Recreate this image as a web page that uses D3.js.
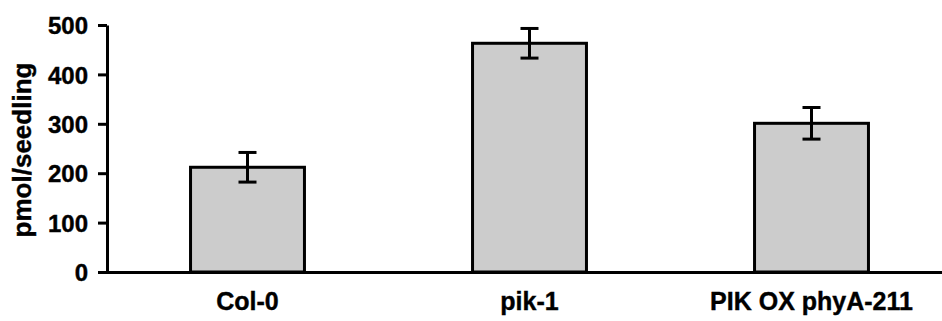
<!DOCTYPE html>
<html>
<head>
<meta charset="utf-8">
<script src="https://cdn.jsdelivr.net/npm/d3@7"></script>
<style>
html,body{margin:0;padding:0;background:#fff;}
svg{display:block;}
text{font-family:"Liberation Sans",Arial,sans-serif;font-weight:bold;fill:#000;stroke:#000;stroke-width:0.4px;}
</style>
</head>
<body>
<svg id="chart" width="942" height="321"></svg>
<script>
const categories = ["Col-0", "pik-1", "PIK OX phyA-211"];
const values = [212, 463, 301];
const errors = [30, 30, 32];
const yTicks = [0, 100, 200, 300, 400, 500];
const yTitle = "pmol/seedling";

const svg = d3.select("#chart");
const y = d3.scaleLinear().domain([0, 500]).range([272, 25]);
const x = d3.scaleBand().domain(categories).range([106.5, 952.5])
  .paddingInner(0.596).paddingOuter(0.298);

// bars
svg.selectAll("rect.bar").data(categories).enter().append("rect")
  .attr("class", "bar")
  .attr("x", d => x(d))
  .attr("width", x.bandwidth())
  .attr("y", (d, i) => y(values[i]))
  .attr("height", (d, i) => y(0) - y(values[i]))
  .attr("fill", "#cccccc")
  .attr("stroke", "#000")
  .attr("stroke-width", 3);

// error bars
const capW = 18;
const eb = svg.selectAll("g.err").data(categories).enter().append("g").attr("class", "err");
eb.append("line")
  .attr("x1", d => x(d) + x.bandwidth() / 2).attr("x2", d => x(d) + x.bandwidth() / 2)
  .attr("y1", (d, i) => y(values[i] + errors[i])).attr("y2", (d, i) => y(values[i] - errors[i]))
  .attr("stroke", "#000").attr("stroke-width", 3);
eb.append("line")
  .attr("x1", d => x(d) + x.bandwidth() / 2 - capW / 2).attr("x2", d => x(d) + x.bandwidth() / 2 + capW / 2)
  .attr("y1", (d, i) => y(values[i] + errors[i])).attr("y2", (d, i) => y(values[i] + errors[i]))
  .attr("stroke", "#000").attr("stroke-width", 3);
eb.append("line")
  .attr("x1", d => x(d) + x.bandwidth() / 2 - capW / 2).attr("x2", d => x(d) + x.bandwidth() / 2 + capW / 2)
  .attr("y1", (d, i) => y(values[i] - errors[i])).attr("y2", (d, i) => y(values[i] - errors[i]))
  .attr("stroke", "#000").attr("stroke-width", 3);

// y axis
const yAxis = d3.axisLeft(y).tickValues(yTicks).tickSize(9).tickPadding(10).tickSizeOuter(0);
const gy = svg.append("g").attr("transform", "translate(107,0)").call(yAxis);
gy.select(".domain").attr("stroke", "#000").attr("stroke-width", 3);
gy.selectAll(".tick line").attr("stroke", "#000").attr("stroke-width", 3);
gy.selectAll(".tick text").style("font-size", "24px").attr("dy", "0.36em");

// x axis
const xAxis = d3.axisBottom(x).tickSize(0).tickPadding(20).tickSizeOuter(0);
const gx = svg.append("g").attr("transform", "translate(0,272)").call(xAxis);
gx.select(".domain").attr("stroke", "#000").attr("stroke-width", 3);
gx.selectAll(".tick text").style("font-size", "25px").attr("dy", "0.71em");

// y title
svg.append("text")
  .attr("transform", "translate(31,150) rotate(-90)")
  .attr("text-anchor", "middle")
  .style("font-size", "26px")
  .text(yTitle);
</script>
</body>
</html>
